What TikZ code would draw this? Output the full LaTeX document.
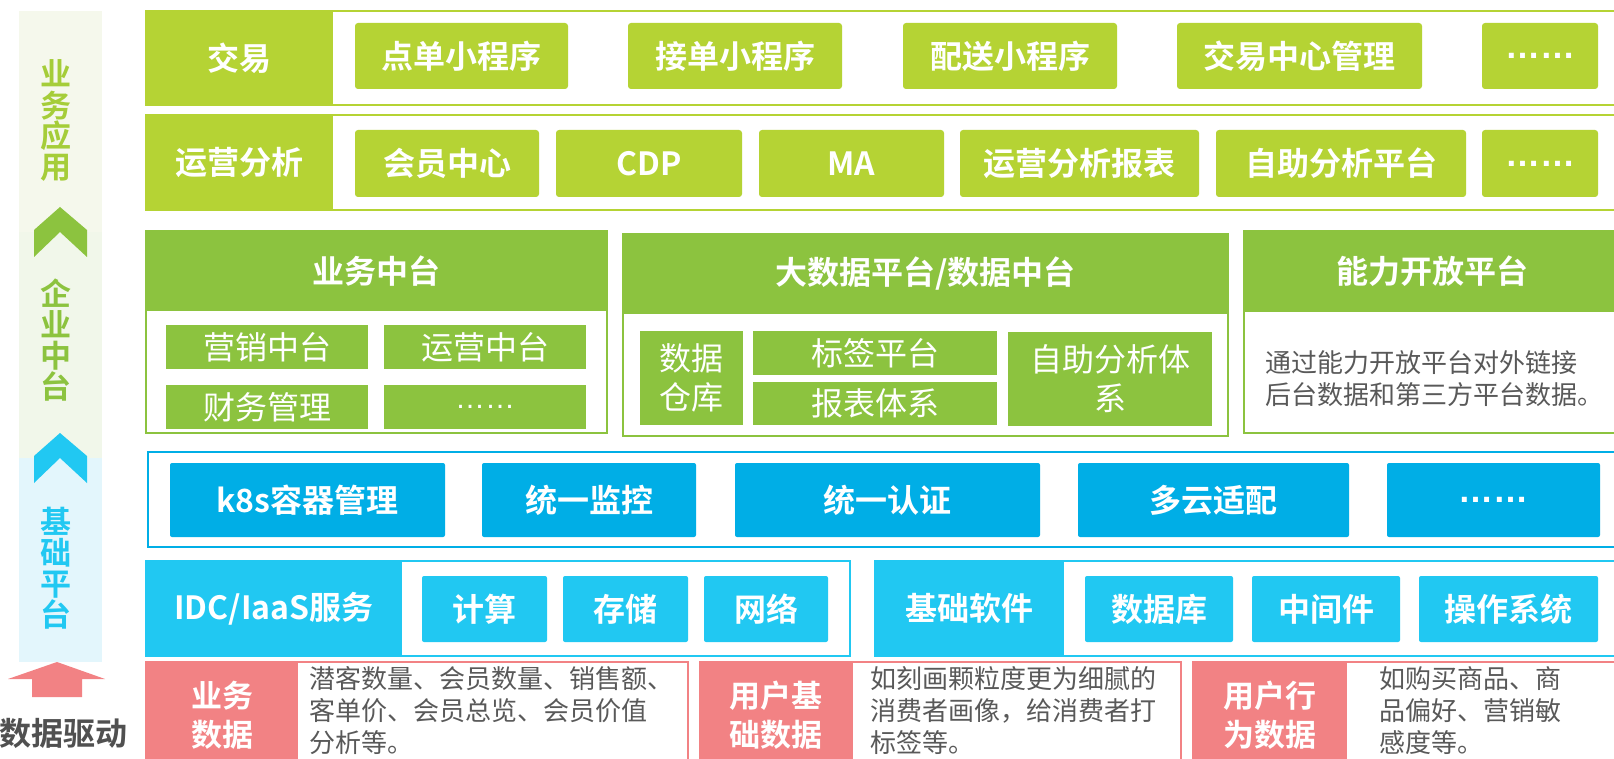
\documentclass[tikz,border=0pt]{standalone}
\usepackage{fontspec}
\setmainfont{Noto Sans CJK SC}[BoldFont={Noto Sans CJK SC Bold}]
\newfontfamily\latf{Liberation Sans}
\definecolor{ygreen}{RGB}{181,211,52}
\definecolor{mgreen}{RGB}{140,195,63}
\definecolor{dblue}{RGB}{0,174,230}
\definecolor{lblue}{RGB}{33,200,242}
\definecolor{pinkA}{RGB}{242,130,132}
\definecolor{txtgray}{RGB}{89,89,89}
\definecolor{sideA}{RGB}{245,248,236}
\definecolor{sideB}{RGB}{241,247,234}
\definecolor{sideC}{RGB}{227,246,252}
\definecolor{sideTxtA}{RGB}{165,205,57}
\definecolor{dvtxt}{RGB}{80,80,80}
\newcommand\fxBigB{\bfseries\fontsize{32}{39}\selectfont}
\newcommand\fxBigR{\fontsize{32}{39}\selectfont}
\newcommand\fxPink{\bfseries\fontsize{31}{39}\selectfont}
\newcommand\fxDesc{\fontsize{26}{32}\selectfont}
\newcommand\fxSide{\bfseries\fontsize{31}{31}\selectfont}
\newcommand\fxEllB{\latf\bfseries\fontsize{35}{36}\selectfont}
\newcommand\fxEllR{\latf\fontsize{30}{32}\selectfont}
\newcommand\bnode[7]{%
  \pgfmathsetmacro\bnx{(#3+#5)/2}%
  \pgfmathsetmacro\bny{(#4+#6)/2}%
  \pgfmathsetmacro\bnw{#5-#3}%
  \pgfmathsetmacro\bnh{#6-#4}%
  \node[#2, minimum width=\bnw pt, minimum height=\bnh pt] (#1) at (\bnx,\bny) {#7};%
}
\tikzset{
 bx/.style={inner sep=0pt, outer sep=0pt, anchor=center},
 frameY/.style={bx, draw=ygreen, line width=2pt, fill=white},
 fillY/.style={bx, fill=ygreen, text=white, font=\fxBigB},
 itemY/.style={bx, fill=ygreen, rounded corners=3pt, text=white, font=\fxBigB},
 frameG/.style={bx, draw=mgreen, line width=2pt, fill=white},
 headG/.style={bx, fill=mgreen, text=white, font=\fxBigB},
 itemG/.style={bx, fill=mgreen, text=white, font=\fxBigR, align=center},
 frameD/.style={bx, draw=dblue, line width=2pt, fill=white},
 itemD/.style={bx, fill=dblue, rounded corners=2pt, text=white, font=\fxBigB},
 frameL/.style={bx, draw=lblue, line width=2pt, fill=white},
 fillL/.style={bx, fill=lblue, text=white, font=\fxBigB},
 itemL/.style={bx, fill=lblue, rounded corners=2pt, text=white, font=\fxBigB},
 frameP/.style={bx, draw=pinkA, line width=2pt, fill=white},
 fillP/.style={bx, fill=pinkA, text=white, font=\fxPink, align=center},
 desc/.style={inner sep=0pt, anchor=north west, align=left, text=txtgray, font=\fxDesc},
 sidetxt/.style={inner sep=0pt, align=center, font=\fxSide},
 sidebg/.style={bx},
}
\begin{document}
\begin{tikzpicture}[x=1pt,y=-1pt]
\path[use as bounding box] (0,0) rectangle (1614,759);
\clip (0,0) rectangle (1614,759);
\fill[white] (0,0) rectangle (1614,759);

% ---- left side bar
\bnode{sbA}{sidebg, fill=sideA}{19}{11}{102}{232}{}
\bnode{sbB}{sidebg, fill=sideB}{19}{232}{102}{458}{}
\bnode{sbC}{sidebg, fill=sideC}{19}{458}{102}{662}{}
\node[sidetxt, text=sideTxtA] (ywyy) at (56,121) {业\\务\\应\\用};
\fill[mgreen] (60,207) -- (87,230) -- (87,257) -- (60,232) -- (34,257) -- (34,230) -- cycle;
\node[sidetxt, text=mgreen] (qyzt) at (56,340) {企\\业\\中\\台};
\fill[lblue] (60,433) -- (87,456) -- (87,483) -- (60,458) -- (34,483) -- (34,456) -- cycle;
\node[sidetxt, text=lblue] (jcpt) at (56,568) {基\\础\\平\\台};
\fill[pinkA] (57,662) -- (105,679) -- (82,679) -- (82,697) -- (32,697) -- (32,679) -- (8,679) -- cycle;
\node[inner sep=0pt, font=\fxBigB, text=dvtxt] (sjqd) at (63,733) {数据驱动};

% ---- row 1
\bnode{r1}{frameY}{146}{11}{1630}{105}{}
\bnode{r1l}{fillY}{146}{11}{333}{105}{交易}
\bnode{r1a}{itemY}{355}{23}{568}{89}{点单小程序}
\bnode{r1b}{itemY}{628}{23}{842}{89}{接单小程序}
\bnode{r1c}{itemY}{903}{23}{1117}{89}{配送小程序}
\bnode{r1d}{itemY}{1177}{23}{1422}{89}{交易中心管理}
\bnode{r1e}{itemY, font=\fxEllB}{1482}{23}{1598}{89}{……}

% ---- row 2
\bnode{r2}{frameY}{146}{115}{1630}{210}{}
\bnode{r2l}{fillY}{146}{115}{333}{210}{运营分析}
\bnode{r2a}{itemY}{355}{130}{539}{197}{会员中心}
\bnode{r2b}{itemY}{556}{130}{742}{197}{CDP}
\bnode{r2c}{itemY}{759}{130}{944}{197}{MA}
\bnode{r2d}{itemY}{960}{130}{1199}{197}{运营分析报表}
\bnode{r2e}{itemY}{1216}{130}{1466}{197}{自助分析平台}
\bnode{r2f}{itemY, font=\fxEllB}{1482}{130}{1598}{197}{……}

% ---- middle: 业务中台
\bnode{ywzt}{frameG}{146}{231}{607}{433}{}
\bnode{ywzth}{headG}{146}{231}{607}{311}{业务中台}
\bnode{yxzt}{itemG}{166}{325}{368}{369}{营销中台}
\bnode{yyzt}{itemG}{384}{325}{586}{369}{运营中台}
\bnode{cwgl}{itemG}{166}{385}{368}{429}{财务管理}
\bnode{ywdot}{itemG, font=\fxEllR}{384}{385}{586}{429}{……}

% ---- middle: 大数据平台
\bnode{dsj}{frameG}{623}{234}{1228}{436}{}
\bnode{dsjh}{headG}{623}{234}{1228}{314}{大数据平台/数据中台}
\bnode{sjck}{itemG}{640}{331}{743}{425}{数据\\仓库}
\bnode{bqpt}{itemG}{753}{331}{997}{375}{标签平台}
\bnode{bbtx}{itemG}{753}{382}{997}{425}{报表体系}
\bnode{zzfx}{itemG}{1008}{332}{1212}{426}{自助分析体\\系}

% ---- middle: 能力开放平台
\bnode{nlkf}{frameG}{1244}{231}{1620}{433}{}
\bnode{nlkfh}{headG}{1244}{231}{1620}{312}{能力开放平台}
\node[desc] (nlkfd) at (1265,350) {通过能力开放平台对外链接\\后台数据和第三方平台数据。};

% ---- row 3
\bnode{r3}{frameD}{148}{452}{1630}{547}{}
\bnode{k8s}{itemD}{170}{463}{445}{537}{k8s容器管理}
\bnode{tyjk}{itemD}{482}{463}{696}{537}{统一监控}
\bnode{tyrz}{itemD}{735}{463}{1040}{537}{统一认证}
\bnode{dysp}{itemD}{1078}{463}{1349}{537}{多云适配}
\bnode{r3dot}{itemD, font=\fxEllB}{1387}{463}{1600}{537}{……}

% ---- row 4
\bnode{idc}{frameL}{146}{561}{850}{656}{}
\bnode{idcl}{fillL}{146}{561}{402}{656}{IDC/IaaS服务}
\bnode{js}{itemL}{422}{576}{547}{642}{计算}
\bnode{cc}{itemL}{563}{576}{688}{642}{存储}
\bnode{wl}{itemL}{704}{576}{828}{642}{网络}
\bnode{jcrj}{frameL}{875}{561}{1630}{656}{}
\bnode{jcrjl}{fillL}{875}{561}{1064}{656}{基础软件}
\bnode{sjk}{itemL}{1085}{576}{1233}{642}{数据库}
\bnode{zjj}{itemL}{1252}{576}{1400}{642}{中间件}
\bnode{czxt}{itemL}{1419}{576}{1598}{642}{操作系统}

% ---- row 5
\bnode{p1}{frameP}{146}{662}{688}{780}{}
\bnode{p1l}{fillP}{146}{662}{298}{780}{}
\node[inner sep=0pt, align=center, font=\fxPink, text=white] (p1t) at (222,715) {业务\\数据};
\node[desc] (p1d) at (309,666) {潜客数量、会员数量、销售额、\\客单价、会员总览、会员价值\\分析等。};
\bnode{p2}{frameP}{700}{662}{1181}{780}{}
\bnode{p2l}{fillP}{700}{662}{853}{780}{}
\node[inner sep=0pt, align=center, font=\fxPink, text=white] (p2t) at (776,715) {用户基\\础数据};
\node[desc] (p2d) at (870,666) {如刻画颗粒度更为细腻的\\消费者画像，给消费者打\\标签等。};
\bnode{p3}{frameP}{1193}{662}{1630}{780}{}
\bnode{p3l}{fillP}{1193}{662}{1347}{780}{}
\node[inner sep=0pt, align=center, font=\fxPink, text=white] (p3t) at (1270,715) {用户行\\为数据};
\node[desc] (p3d) at (1379,666) {如购买商品、商\\品偏好、营销敏\\感度等。};
\end{tikzpicture}
\end{document}
